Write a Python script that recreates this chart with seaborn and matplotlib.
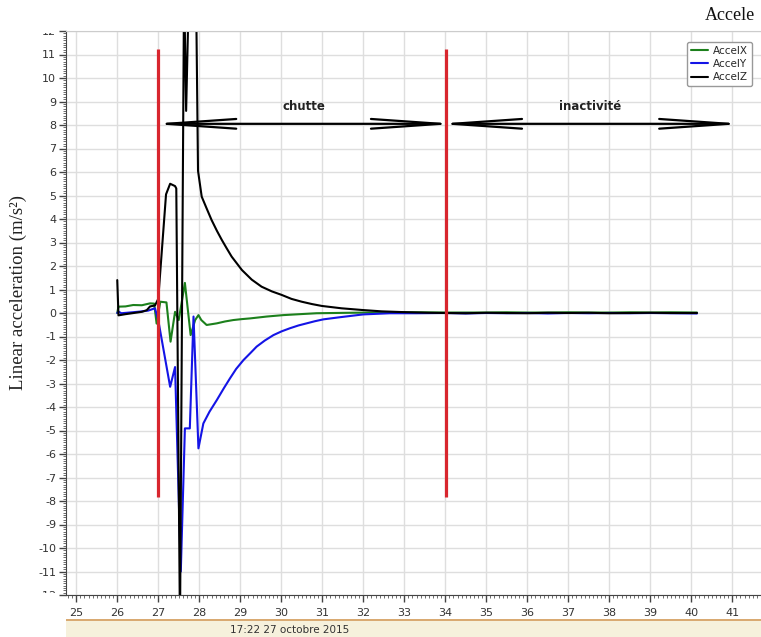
import numpy as np
import pandas as pd
import seaborn as sns
import matplotlib.pyplot as plt
import matplotlib.ticker as ticker
from matplotlib.patches import Rectangle
from matplotlib.transforms import Bbox, TransformedBbox

# AccelZ (black)
z_t = [26.00, 26.03, 26.20, 26.40, 26.60, 26.72, 26.80, 26.92, 27.00, 27.19,
       27.29, 27.41, 27.44, 27.53, 27.63, 27.68, 27.75, 27.92, 27.97, 28.06,
       28.18, 28.30, 28.43, 28.55, 28.67, 28.79, 29.04, 29.28, 29.52, 29.77,
       30.01, 30.25, 30.50, 30.75, 30.99, 31.47, 31.96, 32.45, 32.94, 33.58,
       34.00, 34.50, 35.00, 35.50, 36.00, 36.50, 37.00, 37.50, 38.00, 38.50,
       39.00, 39.50, 40.14]
z_v = [1.40, -0.10, -0.05, 0.00, 0.05, 0.12, 0.28, 0.32, 0.60, 5.05,
       5.50, 5.40, 5.30, -13.5, 14.0, 8.6, 14.0, 14.0, 6.05, 4.95,
       4.45, 3.96, 3.50, 3.11, 2.75, 2.40, 1.83, 1.42, 1.12, 0.92,
       0.77, 0.60, 0.48, 0.38, 0.30, 0.20, 0.13, 0.07, 0.04, 0.01,
       0.00, -0.01, 0.01, 0.00, -0.01, 0.01, 0.00, 0.01, -0.01, 0.00,
       0.01, 0.00, 0.00]

# AccelY (blue)
y_t = [26.00, 26.03, 26.10, 26.30, 26.55, 26.75, 26.92, 27.00, 27.29, 27.41,
       27.55, 27.65, 27.77, 27.86, 27.98, 28.10, 28.25, 28.43, 28.60, 28.75,
       28.90, 29.08, 29.25, 29.40, 29.60, 29.81, 30.01, 30.21, 30.42, 30.62,
       30.82, 31.03, 31.43, 32.00, 32.65, 33.30, 34.00, 34.50, 35.00, 35.50,
       36.00, 36.50, 37.00, 37.50, 38.00, 38.50, 39.00, 39.50, 40.14]
y_v = [0.00, 0.06, -0.01, 0.02, 0.06, 0.10, 0.20, -0.30, -3.14, -2.30,
       -11.0, -4.91, -4.91, -0.15, -5.76, -4.70, -4.20, -3.70, -3.20, -2.78,
       -2.38, -2.00, -1.70, -1.43, -1.17, -0.94, -0.78, -0.65, -0.53, -0.44,
       -0.35, -0.27, -0.18, -0.06, -0.01, -0.01, 0.00, -0.02, 0.00, -0.01,
       0.00, -0.02, 0.00, -0.01, 0.00, -0.01, 0.00, -0.01, -0.02]

# AccelX (green)
x_t = [26.00, 26.03, 26.20, 26.39, 26.60, 26.80, 26.90, 26.96, 27.05, 27.20,
       27.30, 27.41, 27.50, 27.65, 27.79, 27.90, 27.98, 28.05, 28.18, 28.43,
       28.63, 28.83, 29.04, 29.24, 29.65, 30.05, 30.45, 30.86, 31.27, 31.68,
       32.20, 32.80, 33.40, 34.00, 34.50, 35.00, 35.50, 36.00, 36.50, 37.00,
       37.50, 38.00, 38.50, 39.00, 39.50, 40.14]
x_v = [0.00, 0.27, 0.28, 0.34, 0.33, 0.41, 0.40, -0.45, 0.48, 0.45,
       -1.22, 0.05, -0.30, 1.28, -0.94, -0.30, -0.09, -0.30, -0.51, -0.44,
       -0.36, -0.30, -0.26, -0.23, -0.15, -0.09, -0.05, -0.01, 0.00, 0.01,
       0.02, 0.03, 0.03, 0.02, 0.02, 0.02, 0.03, 0.02, 0.02, 0.03,
       0.02, 0.02, 0.03, 0.02, 0.03, 0.02]

phase_x = [27.0, 34.02]
phase_top = 11.25
phase_bottom = -7.82
phase_labels = ["chutte", "inactivité"]
phase_spans = [(27.12, 33.97), (34.09, 41.0)]
arrow_y = 8.05
date_label = "17:22 27 octobre 2015"

df = pd.concat([
    pd.DataFrame({"t": x_t, "a": x_v, "serie": "AccelX"}),
    pd.DataFrame({"t": y_t, "a": y_v, "serie": "AccelY"}),
    pd.DataFrame({"t": z_t, "a": z_v, "serie": "AccelZ"}),
], ignore_index=True)

sns.set_style("ticks")
plt.rcParams["axes.unicode_minus"] = False
fig = plt.figure(figsize=(7.61, 6.37), dpi=100)
ax = fig.add_axes([66 / 761, 42 / 637, 1 - 66 / 761, 564 / 637])

sns.lineplot(data=df, x="t", y="a", hue="serie", ax=ax, sort=False, estimator=None,
             palette={"AccelX": "#1c801c", "AccelY": "#1414e6", "AccelZ": "black"},
             linewidth=1.5)

ax.vlines(phase_x, phase_bottom, phase_top, color="#d8262e", linewidth=2.3, zorder=4)

# the arrow tips sit a bit inside the end points, push them out again
tip_pad = 0.3
for (x0, x1), lab in zip(phase_spans, phase_labels):
    ax.annotate("", xy=(x0 - tip_pad, arrow_y), xytext=(x1 + tip_pad, arrow_y),
                arrowprops=dict(arrowstyle="<->,head_length=5,head_width=0.35",
                                color="black", linewidth=1.6, shrinkA=0, shrinkB=0),
                zorder=5)
    ax.text((x0 + x1) / 2, arrow_y + 0.45, lab, ha="center", va="bottom",
            fontsize=8.5, fontweight="bold", color="#222222")

ax.set_xlim(24.75, 24.75 + 695 / 41.0)
ax.set_ylim(-12, 12)
ax.xaxis.set_major_locator(ticker.MultipleLocator(1))
ax.xaxis.set_minor_locator(ticker.MultipleLocator(0.1))
ax.yaxis.set_major_locator(ticker.MultipleLocator(1))
ax.yaxis.set_minor_locator(ticker.MultipleLocator(0.1))
ax.grid(which="major", color="#dedede", linewidth=1.0)
ax.tick_params(which="major", length=5, width=1, color="#444444",
               labelsize=8, labelcolor="#333333", pad=2)
ax.tick_params(axis="x", which="major", pad=4)
ax.tick_params(which="minor", length=2.5, width=0.6, color="#555555")
for s in ["left", "bottom"]:
    ax.spines[s].set_color("#444444")
ax.spines["top"].set_color("#cccccc")
ax.spines["right"].set_visible(False)
ax.set_xlabel("")
ax.set_ylabel("")

fig.canvas.draw()
clip = TransformedBbox(Bbox([[-1, 0.004], [1, 0.996]]), ax.transAxes)
for lbl in ax.get_yticklabels():
    lbl.set_clip_box(clip)
    lbl.set_clip_on(True)

fig.text(18 / 761, 1 - 292 / 637, "Linear acceleration (m/s²)", rotation=90,
         ha="center", va="center", fontsize=13.5, family="Liberation Serif", color="#222222")
fig.text(705 / 761, 1 - 15 / 637, "Accele", ha="left", va="center",
         fontsize=13, family="Liberation Serif", color="#111111")

fig.patches.append(Rectangle((66 / 761, 0), 1, 16 / 637, transform=fig.transFigure,
                             facecolor="#f6f1dc", edgecolor="none"))
fig.patches.append(Rectangle((66 / 761, 16 / 637), 1, 2 / 637, transform=fig.transFigure,
                             facecolor="#d9aa72", edgecolor="none"))
fig.text(290 / 761, 1 - 630 / 637, date_label, ha="center", va="center",
         fontsize=7.5, color="#333333")

leg = ax.legend(loc="upper right", bbox_to_anchor=(0.995, 0.99), fontsize=7.5,
                handlelength=1.6, frameon=True, fancybox=True, framealpha=1,
                edgecolor="#999999", borderpad=0.4, labelspacing=0.3,
                handletextpad=0.5)
leg.set_title(None)

fig.savefig("out.png", dpi=100)
